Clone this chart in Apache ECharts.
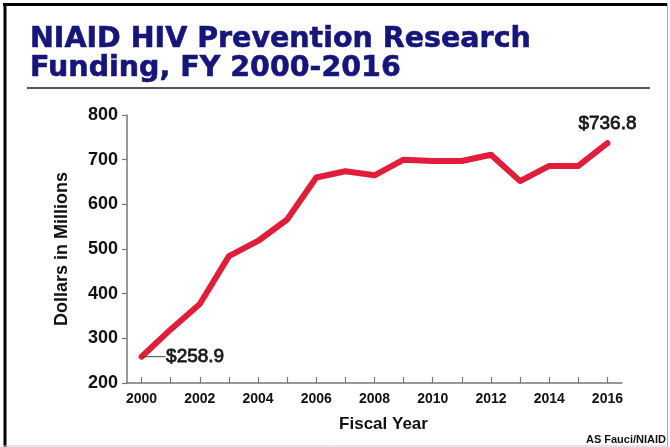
<!DOCTYPE html>
<html>
<head>
<meta charset="utf-8">
<script src="https://cdn.jsdelivr.net/npm/echarts@6/dist/echarts.min.js"></script>
<style>
html,body{margin:0;padding:0;background:#fff;}
#chart{width:670px;height:447px;}
</style>
</head>
<body>
<div id="chart"></div>
<script>
const years = ['2000','2001','2002','2003','2004','2005','2006','2007','2008','2009','2010','2011','2012','2013','2014','2015','2016'];
const funding = [258.9, 320, 377, 484, 518, 566, 660, 674, 665, 700, 697, 697, 711, 652, 686, 686, 736.8];
const yTicks = [200, 800, 100];
const titleText = 'NIAID HIV Prevention Research\nFunding, FY 2000-2016';
const sourceText = 'AS Fauci/NIAID';

const chart = echarts.init(document.getElementById('chart'));
const lastIdx = funding.length - 1;
const seriesData = funding.map((v, i) => {
  if (i === 0) {
    return {value: v, label: {show: true, position: 'right', distance: 4}, labelLine: {show: true}};
  }
  if (i === lastIdx) {
    return {value: v, label: {show: true, position: 'top', distance: 9}};
  }
  return v;
});

chart.setOption({
  backgroundColor: '#fff',
  animation: false,
  title: {
    text: titleText,
    left: 25, top: 20,
    textStyle: {fontFamily: 'DejaVu Sans', fontWeight: 'bold', fontSize: 28.5, lineHeight: 29, color: '#15157c',
      textBorderColor: '#15157c', textBorderWidth: 0.6}
  },
  grid: {left: 127, right: 48, top: 115, bottom: 64, containLabel: false},
  xAxis: {
    type: 'category',
    data: years,
    boundaryGap: true,
    name: 'Fiscal Year',
    nameLocation: 'middle',
    nameGap: 33,
    nameTextStyle: {fontFamily: 'Liberation Sans', fontWeight: 'bold', fontSize: 17, color: '#111', padding: [0,0,0,18]},
    axisLine: {lineStyle: {color: '#777', width: 1.5}},
    axisTick: {show: true, inside: true, length: 6, alignWithLabel: true, interval: 0, lineStyle: {color: '#777', width: 1.2}},
    axisLabel: {interval: 1, margin: 9, fontFamily: 'Liberation Sans', fontWeight: 'bold', fontSize: 14, color: '#111'},
    splitLine: {show: false}
  },
  yAxis: {
    type: 'value',
    min: yTicks[0], max: yTicks[1], interval: yTicks[2],
    name: 'Dollars in Millions',
    nameLocation: 'middle',
    nameGap: 56,
    nameRotate: 90,
    nameTextStyle: {fontFamily: 'Liberation Sans', fontWeight: 'bold', fontSize: 18, color: '#111'},
    axisLine: {show: true, lineStyle: {color: '#777', width: 1.5}},
    axisTick: {show: true, inside: false, length: 5, lineStyle: {color: '#777', width: 1.2}},
    axisLabel: {margin: 9, fontFamily: 'Liberation Sans', fontWeight: 'bold', fontSize: 18, color: '#111'},
    splitLine: {show: false}
  },
  series: [{
    type: 'line',
    data: seriesData,
    symbol: 'circle',
    symbolSize: 1,
    showSymbol: true,
    itemStyle: {color: '#e21d3a'},
    lineStyle: {color: '#e21d3a', width: 6, cap: 'round', join: 'round'},
    label: {
      show: false,
      formatter: p => '$' + Number(p.value).toFixed(1),
      fontFamily: 'Liberation Sans', fontSize: 19, color: '#1a1a1a',
      textBorderColor: '#1a1a1a', textBorderWidth: 0.8
    },
    labelLine: {show: false, length2: 0, lineStyle: {color: '#444', width: 1}},
    labelLayout: p => p.dataIndex === 0 ? {dx: 20, dy: 0} : {}
  }],
  graphic: [
    {type: 'line', shape: {x1: 27, y1: 88, x2: 650, y2: 88}, style: {stroke: '#555', lineWidth: 2}},
    {type: 'line', shape: {x1: 3, y1: 4.5, x2: 668, y2: 4.5}, style: {stroke: '#000', lineWidth: 3}},
    {type: 'line', shape: {x1: 5, y1: 3, x2: 5, y2: 447}, style: {stroke: '#000', lineWidth: 3}},
    {type: 'line', shape: {x1: 667.5, y1: 3, x2: 667.5, y2: 447}, style: {stroke: '#aaa', lineWidth: 1}},
    {type: 'line', shape: {x1: 3, y1: 446, x2: 668, y2: 446}, style: {stroke: '#ccc', lineWidth: 1}},
    {type: 'text', right: 4, top: 434, style: {text: sourceText, fontFamily: 'Liberation Sans', fontWeight: 'bold', fontSize: 11, fill: '#111'}}
  ]
});
</script>
</body>
</html>
